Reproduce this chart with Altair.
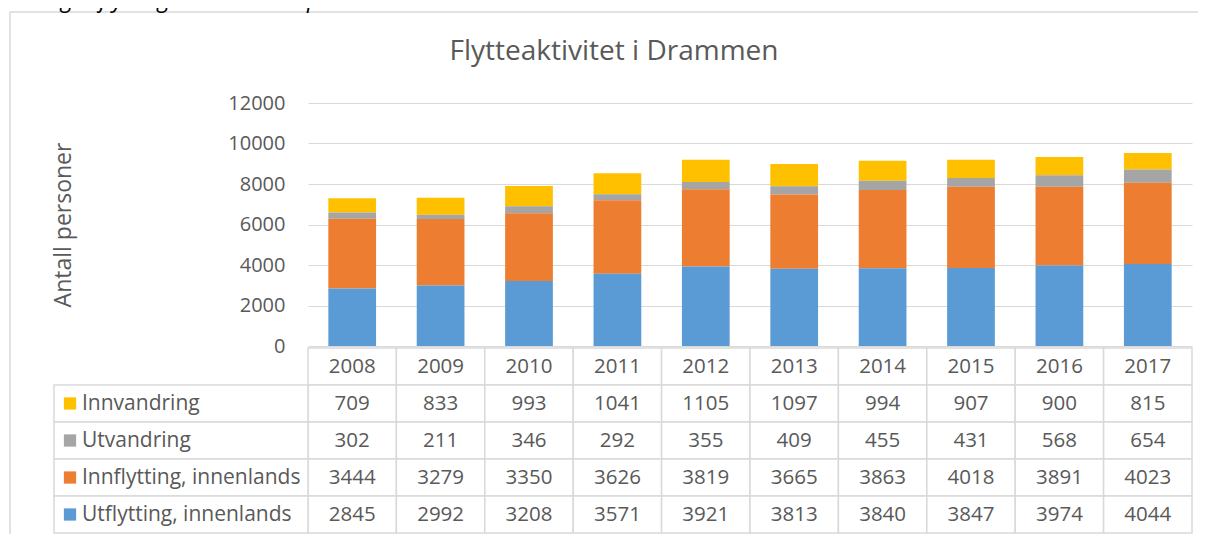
import altair as alt
import pandas as pd

# ---------------- data ----------------
years = ["2008", "2009", "2010", "2011", "2012", "2013", "2014", "2015", "2016", "2017"]
innvandring = [709, 833, 993, 1041, 1105, 1097, 994, 907, 900, 815]
utvandring = [302, 211, 346, 292, 355, 409, 455, 431, 568, 654]
innflytting = [3444, 3279, 3350, 3626, 3819, 3665, 3863, 4018, 3891, 4023]
utflytting = [2845, 2992, 3208, 3571, 3921, 3813, 3840, 3847, 3974, 4044]
series_names = ["Innvandring", "Utvandring", "Innflytting, innenlands", "Utflytting, innenlands"]
series_colors = ["#FFC000", "#A5A5A5", "#ED7D31", "#5B9BD5"]
y_ticks = [0, 2000, 4000, 6000, 8000, 10000, 12000]
chart_title = "Flytteaktivitet i Drammen"
caption = "Inn- og utflytting i Drammen i perioden 2008-2017"
y_title = "Antall personer"

# ---------------- tables built from lists ----------------
series_values = [innvandring, utvandring, innflytting, utflytting]
rows = []
for i, (name, vals) in enumerate(zip(series_names, series_values)):
    for yr, v in zip(years, vals):
        rows.append({"year": yr, "series": name, "value": v, "stack_idx": len(series_names) - 1 - i})
df = pd.DataFrame(rows)

row_keys = ["header"] + series_names
cells_df = pd.DataFrame([{"year": yr, "row": r} for r in row_keys for yr in years])
header_df = pd.DataFrame({"year": years, "row": ["header"] * len(years)})
labels_df = pd.DataFrame({"row": series_names})
one_df = pd.DataFrame({"t": [chart_title], "c": [caption]})

FONT = "Open Sans"
TXT = "#595959"
GRID = "#d9d9d9"
W, H = 884, 430
BAR_H = 243

color_scale = alt.Scale(domain=series_names, range=series_colors)
row_scale = alt.Scale(domain=row_keys, range=[245, H], paddingInner=0, paddingOuter=0)
xtab_scale = alt.Scale(domain=years, paddingInner=0, paddingOuter=0)

border = alt.Chart(one_df).mark_rect(filled=False, stroke=GRID, strokeWidth=1.5).encode(
    x=alt.value(-298), x2=alt.value(W + 40), y=alt.value(-91), y2=alt.value(H + 40)
)

bars = alt.Chart(df).mark_bar().encode(
    x=alt.X("year:N", sort=years, axis=None,
            scale=alt.Scale(domain=years, paddingInner=0.46, paddingOuter=0.23)),
    y=alt.Y("value:Q", stack="zero",
            scale=alt.Scale(domain=[0, 12000], range=[BAR_H, 0], nice=False),
            axis=alt.Axis(values=y_ticks, format="d", title=y_title, grid=True, gridColor=GRID,
                          gridWidth=1, domain=False, ticks=False, labelPadding=23, labelFont=FONT,
                          labelFontSize=20, labelColor=TXT, titleFont=FONT, titleFontSize=23,
                          titleFontWeight="normal", titleColor=TXT, titleX=-245, titleY=BAR_H / 2,
                          titleAngle=-90, titleAlign="center", titleBaseline="middle")),
    color=alt.Color("series:N", scale=color_scale, legend=None),
    order=alt.Order("stack_idx:Q", sort="ascending"),
)

cells = alt.Chart(cells_df).mark_rect(fill="white", stroke=GRID, strokeWidth=1.5).encode(
    x=alt.X("year:N", scale=xtab_scale, axis=None),
    y=alt.Y("row:N", scale=row_scale, axis=None),
)

label_cells = alt.Chart(labels_df).mark_rect(fill="white", stroke=GRID, strokeWidth=1.5).encode(
    x=alt.value(-254), x2=alt.value(0),
    y=alt.Y("row:N", scale=row_scale, axis=None),
)

squares = alt.Chart(labels_df).mark_square(size=150, opacity=1).encode(
    x=alt.value(-238),
    y=alt.Y("row:N", scale=row_scale, axis=None),
    color=alt.Color("row:N", scale=color_scale, legend=None),
)

label_text = alt.Chart(labels_df).mark_text(align="left", baseline="middle", font=FONT,
                                            fontSize=21, color=TXT).encode(
    x=alt.value(-226),
    y=alt.Y("row:N", scale=row_scale, axis=None),
    text="row:N",
)

num_text = alt.Chart(df).mark_text(align="center", baseline="middle", font=FONT,
                                   fontSize=20.5, color=TXT).encode(
    x=alt.X("year:N", scale=xtab_scale, axis=None),
    y=alt.Y("series:N", scale=row_scale, axis=None),
    text="value:Q",
)

header_text = alt.Chart(header_df).mark_text(align="center", baseline="middle", font=FONT,
                                             fontSize=20.5, color=TXT).encode(
    x=alt.X("year:N", scale=xtab_scale, axis=None),
    y=alt.Y("row:N", scale=row_scale, axis=None),
    text="year:N",
)

title_text = alt.Chart(one_df).mark_text(align="center", baseline="middle", font=FONT,
                                         fontSize=28, color=TXT).encode(
    x=alt.value(306), y=alt.value(-51), text="t:N"
)

caption_text = alt.Chart(one_df).mark_text(align="left", baseline="alphabetic", font=FONT,
                                           fontSize=23, fontStyle="italic", color="#000000").encode(
    x=alt.value(-306), y=alt.value(-96), text="c:N"
)

chart = alt.layer(
    border, bars, cells, label_cells, squares, label_text, num_text, header_text,
    title_text, caption_text
).resolve_scale(
    x="independent", y="independent", color="independent"
).properties(
    width=W, height=H,
    autosize=alt.AutoSizeParams(type="none"),
    padding={"left": 300, "top": 95, "right": 6, "bottom": 1},
).configure_view(stroke=None)

chart.save("out.html", embed_options={"renderer": "svg", "actions": False})
